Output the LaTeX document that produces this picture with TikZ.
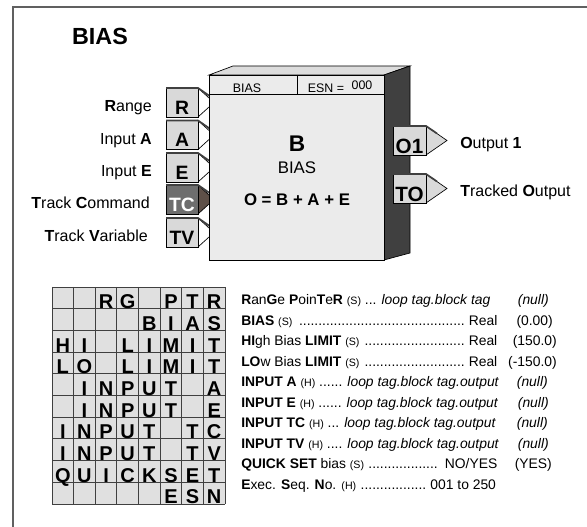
\documentclass[tikz,border=0pt]{standalone}
\usepackage{fontspec}
\setmainfont{Liberation Sans}
\usepackage{tikz}
\usetikzlibrary{positioning}
\definecolor{tabgray}{HTML}{D9D9D9}
\definecolor{facegray}{HTML}{EBEBEB}
\definecolor{topgray}{HTML}{DCDCDC}
\definecolor{sidegray}{HTML}{404040}
\definecolor{gridgray}{HTML}{E0E0E0}
\definecolor{tcgray}{HTML}{6E6E6E}
\definecolor{tcbrown}{HTML}{5E5048}
\definecolor{framegray}{HTML}{606060}
\tikzstyle{pinbox} = [draw=black, fill=tabgray, line width=0.5pt]
\tikzstyle{bevel} = [draw=sidegray, line width=1.3pt, line join=round]
\tikzstyle{pintext} = [anchor=base, inner sep=0pt, font=\fontsize{14.5}{16}\selectfont\bfseries]
\tikzstyle{outtext} = [anchor=base, inner sep=0pt, font=\fontsize{15.5}{17}\selectfont\bfseries]
\tikzstyle{pinlabel} = [anchor=base east, inner sep=0pt, font=\fontsize{12}{14}\selectfont]
\tikzstyle{outlabel} = [anchor=base west, inner sep=0pt, font=\fontsize{12}{14}\selectfont]
\tikzstyle{hdrtext} = [anchor=base, inner sep=0pt, font=\fontsize{9.3}{11}\selectfont]
\tikzstyle{blktext} = [anchor=base, inner sep=0pt, font=\fontsize{12.6}{14}\selectfont]
\tikzstyle{gridline} = [draw=sidegray, line width=0.6pt]
\tikzstyle{gridletter} = [anchor=base, inner sep=0pt, font=\fontsize{15}{17}\selectfont\bfseries]
\tikzstyle{param} = [anchor=base west, inner sep=0pt, font=\fontsize{10.4}{12}\selectfont]
\tikzstyle{defval} = [anchor=base east, inner sep=0pt, font=\fontsize{10.4}{12}\selectfont]
\newcommand{\smallpar}[1]{{\fontsize{8}{9}\selectfont #1}}
\newcommand{\dotlead}{\leaders\hbox{.}\hfill}

\begin{document}
\begin{tikzpicture}[x=0.75pt, y=-0.75pt]
\useasboundingbox (0,0) rectangle (587,527);
% frame and title
\draw[framegray, line width=1.1pt] (13,527) -- (13,7) -- (587,7);
\node[anchor=base, inner sep=0pt, font=\fontsize{17.5}{20}\selectfont\bfseries] (title) at (100,45) {BIAS};

% input pins
\foreach \yt/\ltr/\lbl/\lx/\bx/\tri/\fg in {
  88/R/{\textbf{R}ange}/152/tabgray/white/black,
  120.5/A/{Input \textbf{A}}/152/tabgray/white/black,
  153/E/{Input \textbf{E}}/152/tabgray/white/black,
  185/TC/{\textbf{T}rack \textbf{C}ommand}/150/tcgray/tcbrown/white,
  218/TV/{\textbf{T}rack \textbf{V}ariable}/148/tabgray/white/black}
{
  \filldraw[fill=\tri, draw=black, line width=0.5pt] (198,\yt) -- (214,\yt+14.5) -- (198,\yt+29) -- cycle;
  \filldraw[pinbox, fill=\bx] (166,\yt) rectangle (198,\yt+29);
  \draw[bevel] (166,\yt) -- (198,\yt) -- (211,\yt+9);
  \node[pintext, text=\fg] (pin\ltr) at (182,\yt+26.5) {\ltr};
  \node[pinlabel] (lbl\ltr) at (\lx,\yt+24) {\lbl};
}

% function block
\filldraw[fill=topgray, draw=black, line width=0.5pt] (209,75) -- (233,66) -- (410,66) -- (384,75) -- cycle;
\filldraw[fill=sidegray, draw=black, line width=0.5pt] (384,75) -- (410,66) -- (410,253) -- (384,260) -- cycle;
\filldraw[fill=facegray, draw=black, line width=0.6pt] (209,75) rectangle (384,260);
\draw[line width=0.5pt] (209,94) -- (384,94);
\draw[line width=0.5pt] (297,75) -- (297,94);
\node[hdrtext] (hdrname) at (247,92.5) {BIAS};
\node[hdrtext] (hdresn) at (326,92.5) {ESN =};
\node[hdrtext] (hdrnum) at (362,90) {000};
\node[anchor=base, inner sep=0pt, font=\fontsize{17}{19}\selectfont\bfseries] (blkB) at (297,152) {B};
\node[blktext] (blkname) at (297,174) {BIAS};
\node[blktext, font=\fontsize{12.6}{14}\selectfont\bfseries] (blkeq) at (297,206) {O = B + A + E};

% output pins
\foreach \yt/\ltr/\lbl in {
  126/O1/{\textbf{O}utput \textbf{1}},
  174/TO/{\textbf{T}racked \textbf{O}utput}}
{
  \filldraw[fill=tabgray, draw=black, line width=0.5pt] (426,\yt) -- (447,\yt+14.5) -- (426,\yt+29) -- cycle;
  \filldraw[pinbox] (393,\yt) rectangle (426,\yt+29);
  \draw[bevel] (393,\yt) -- (426,\yt) -- (437,\yt+7.5);
  \node[outtext] (out\ltr) at (409.5,\yt+27.5) {\ltr};
  \node[outlabel] (lbl\ltr) at (460,\yt+23) {\lbl};
}

% mnemonic grid
\fill[gridgray] (52,287) rectangle (225,504);
\foreach \k in {0,...,8}
  \draw[gridline] (52+21.625*\k,287) -- (52+21.625*\k,504);
\foreach \k in {0,...,10}
  \draw[gridline] (52,287+21.7*\k) -- (225,287+21.7*\k);
\foreach \r/\cells in {
  1/{3/R,4/G,6/P,7/T,8/R},
  2/{5/B,6/I,7/A,8/S},
  3/{1/H,2/I,4/L,5/I,6/M,7/I,8/T},
  4/{1/L,2/O,4/L,5/I,6/M,7/I,8/T},
  5/{2/I,3/N,4/P,5/U,6/T,8/A},
  6/{2/I,3/N,4/P,5/U,6/T,8/E},
  7/{1/I,2/N,3/P,4/U,5/T,7/T,8/C},
  8/{1/I,2/N,3/P,4/U,5/T,7/T,8/V},
  9/{1/Q,2/U,3/I,4/C,5/K,6/S,7/E,8/T},
  10/{6/E,7/S,8/N}}
{
  \foreach \c/\ch in \cells
    \node[gridletter] (g\r-\c) at (52+21.625*\c-10.8,287+21.7*\r) {\ch};
}

% parameter list
\foreach \i/\txt in {
  0/{\textbf{R}an\textbf{G}e \textbf{P}oin\textbf{T}e\textbf{R} \smallpar{(S)} ... \textit{loop tag.block tag}},
  1/{\makebox[192pt][l]{\textbf{BIAS} \smallpar{(S)} \dotlead\ Real}},
  2/{\makebox[192pt][l]{\textbf{HI}gh Bias \textbf{LIMIT} \smallpar{(S)} \dotlead\ Real}},
  3/{\makebox[192pt][l]{\textbf{LO}w Bias \textbf{LIMIT} \smallpar{(S)} \dotlead\ Real}},
  4/{\textbf{INPUT A} \smallpar{(H)} ...... \textit{loop tag.block tag.output}},
  5/{\textbf{INPUT E} \smallpar{(H)} ...... \textit{loop tag.block tag.output}},
  6/{\textbf{INPUT TC} \smallpar{(H)} ... \textit{loop tag.block tag.output}},
  7/{\textbf{INPUT TV} \smallpar{(H)} .... \textit{loop tag.block tag.output}},
  8/{\makebox[192pt][l]{\textbf{QUICK SET} bias \smallpar{(S)} \dotlead\ NO/YES}},
  9/{\makebox[191pt][l]{\textbf{E}xec. \textbf{S}eq. \textbf{N}o. \smallpar{(H)} \dotlead\ 001 to 250}}}
  \node[param] (par\i) at (241,305+20.5*\i) {\txt};
\foreach \i/\val/\vx in {
  0/\textit{(null)}/549, 1/(0.00)/553, 2/(150.0)/557, 3/(-150.0)/557,
  4/\textit{(null)}/548, 5/\textit{(null)}/549, 6/\textit{(null)}/548,
  7/\textit{(null)}/549, 8/(YES)/552}
  \node[defval] (def\i) at (\vx,305+20.5*\i) {\val};
\end{tikzpicture}
\end{document}
